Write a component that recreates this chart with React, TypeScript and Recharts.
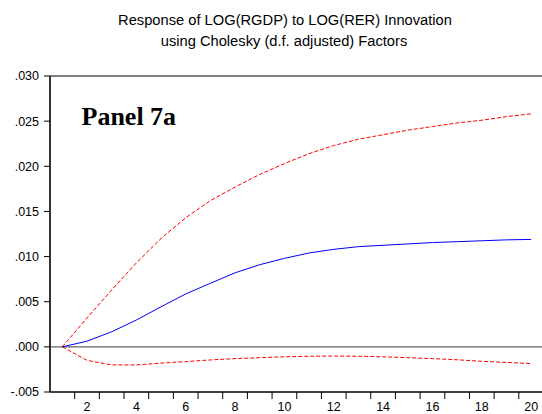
import { LineChart, Line, XAxis, YAxis, ReferenceLine } from "recharts";

// impulse response over 20 periods, with +/- 2 S.E. bands
const periods = [1, 2, 3, 4, 5, 6, 7, 8, 9, 10, 11, 12, 13, 14, 15, 16, 17, 18, 19, 20];
const response = [
  0, 0.00063, 0.00167, 0.00297, 0.00444, 0.00586, 0.00704, 0.0082, 0.0091, 0.0098,
  0.0104, 0.0108, 0.0111, 0.01125, 0.0114, 0.01155, 0.01165, 0.01175, 0.01185, 0.0119,
];
const upperBand = [
  0, 0.0032, 0.0063, 0.0093, 0.012, 0.0143, 0.0162, 0.0177, 0.0191, 0.0203,
  0.0214, 0.0223, 0.023, 0.0235, 0.024, 0.0244, 0.0248, 0.0251, 0.0255, 0.0258,
];
const lowerBand = [
  0, -0.0015, -0.002, -0.002, -0.0018, -0.00163, -0.00145, -0.0013, -0.0012, -0.0011,
  -0.00104, -0.00102, -0.00104, -0.0011, -0.0012, -0.0013, -0.00143, -0.0016, -0.00172, -0.00185,
];

const yTicks = [-0.005, 0, 0.005, 0.01, 0.015, 0.02, 0.025, 0.03];
const xLabels = [2, 4, 6, 8, 10, 12, 14, 16, 18, 20];
// tick marks sit between periods, labels on even periods
const xTickMarks = [1.5, 2.5, 3.5, 4.5, 5.5, 6.5, 7.5, 8.5, 9.5, 10.5, 11.5, 12.5, 13.5, 14.5, 15.5, 16.5, 17.5, 18.5, 19.5];

const data = periods.map((p, i) => ({
  period: p,
  response: response[i],
  upper: upperBand[i],
  lower: lowerBand[i],
}));

const allXTicks = [...xTickMarks, ...xLabels].sort((a, b) => a - b);

const fmtY = (v: number) => v.toFixed(3).replace("0.", ".");

const XTick = (props: any) => {
  const { x, y, payload } = props;
  const v = payload.value as number;
  if (v % 1 !== 0) {
    return <line x1={x} x2={x} y1={y} y2={y + 7} stroke="#000" strokeWidth={1} />;
  }
  return (
    <text
      x={x}
      y={y + 19}
      textAnchor="middle"
      fontSize={12.5}
      fontFamily="'Liberation Sans', Arial, sans-serif"
      fill="#000"
    >
      {v}
    </text>
  );
};

export default function App() {
  return (
    <div
      style={{
        position: "absolute",
        left: 0,
        top: 0,
        width: 542,
        height: 414,
        background: "#fff",
        overflow: "hidden",
      }}
    >
      <LineChart
        width={542}
        height={414}
        data={data}
        margin={{ top: 76, right: 0, bottom: 0, left: 0 }}
      >
        <XAxis
          dataKey="period"
          type="number"
          domain={[0.5, 20.44]}
          ticks={allXTicks}
          interval={0}
          height={22}
          tick={<XTick />}
          tickLine={false}
          tickSize={0}
          tickMargin={0}
          axisLine={{ stroke: "#000", strokeWidth: 1.5 }}
          allowDataOverflow
        />
        <YAxis
          type="number"
          domain={[-0.005, 0.03]}
          ticks={yTicks}
          interval={0}
          width={50}
          tickFormatter={fmtY}
          tickSize={6}
          tickMargin={5}
          tickLine={{ stroke: "#000" }}
          axisLine={{ stroke: "#333", strokeWidth: 2 }}
          tick={{ fontSize: 12.5, fill: "#000", fontFamily: "'Liberation Sans', Arial, sans-serif" }}
        />
        <ReferenceLine y={0.03} stroke="#000" strokeWidth={1} />
        <ReferenceLine y={0} stroke="#666" strokeWidth={1.3} />
        <Line
          type="linear"
          dataKey="upper"
          stroke="#ff0000"
          strokeWidth={1}
          strokeDasharray="4 2"
          dot={false}
          isAnimationActive={false}
        />
        <Line
          type="linear"
          dataKey="lower"
          stroke="#ff0000"
          strokeWidth={1}
          strokeDasharray="4 2"
          dot={false}
          isAnimationActive={false}
        />
        <Line
          type="linear"
          dataKey="response"
          stroke="#0000ff"
          strokeWidth={1}
          dot={false}
          isAnimationActive={false}
        />
      </LineChart>
      <svg
        width={542}
        height={414}
        style={{ position: "absolute", left: 0, top: 0, pointerEvents: "none" }}
      >
        <g fontFamily="'Liberation Sans', Arial, sans-serif" fontSize={14.7} fill="#000" textAnchor="middle">
          <text x={285} y={24.5}>Response of LOG(RGDP) to LOG(RER) Innovation</text>
          <text x={284} y={45.5}>using Cholesky (d.f. adjusted) Factors</text>
        </g>
        <text
          x={81.5}
          y={125}
          fontFamily="'Liberation Serif', 'Times New Roman', serif"
          fontWeight="bold"
          fontSize={26}
          fill="#000"
        >
          Panel 7a
        </text>
      </svg>
    </div>
  );
}
